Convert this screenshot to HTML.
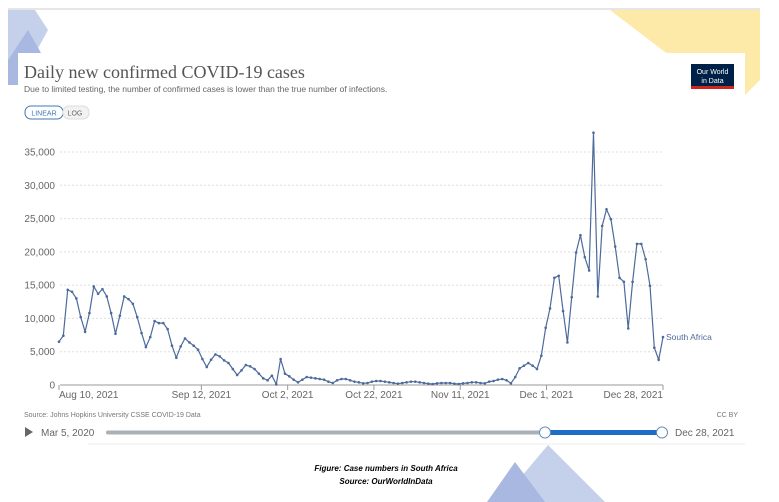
<!DOCTYPE html>
<html><head><meta charset="utf-8"><style>
body{margin:0;width:779px;height:502px;background:#fff;overflow:hidden;font-family:"Liberation Sans",sans-serif;position:relative}
svg{position:absolute;left:0;top:0}
</style></head><body>
<svg width="779" height="502">
<g>
<line x1="8" y1="9" x2="760" y2="9" stroke="#ccc" stroke-width="1"/>
<polygon points="8,10 35,10 48,30 18,85 8,85" fill="#c5d0ea"/>
<polygon points="8,60 28,30 45,60 30,85 8,85" fill="#a8b8e0"/>
<polygon points="610,10 760,10 760,80 745,95 665,52" fill="#fde9a8"/>
<polygon points="500,502 548,445 605,502" fill="#c5d0ea"/>
<polygon points="487,502 515,462 545,502" fill="#a8b8e0"/>
<rect x="18" y="53" width="727" height="350" fill="#fff"/>
<line x1="88" y1="444" x2="745" y2="444" stroke="#eee"/>
</g>
<text x="24" y="78" font-family="Liberation Serif,serif" font-size="18" fill="#555">Daily new confirmed COVID-19 cases</text>
<text x="24" y="92" font-size="8.5" fill="#666">Due to limited testing, the number of confirmed cases is lower than the true number of infections.</text>
<g><rect x="691" y="64" width="43" height="25" fill="#002147"/><rect x="691" y="86" width="43" height="3" fill="#ce261e"/>
<text x="712.5" y="74" font-size="7" fill="#fff" text-anchor="middle">Our World</text><text x="712.5" y="83" font-size="7" fill="#fff" text-anchor="middle">in Data</text></g>
<g><rect x="25" y="106" width="38" height="13" rx="6" fill="#fff" stroke="#3f78b5"/><text x="44" y="115.5" font-size="7" fill="#3f78b5" text-anchor="middle">LINEAR</text></g>
<g><rect x="63" y="106" width="26" height="13" rx="6" fill="#f2f2f2" stroke="#ddd"/><text x="75" y="115.5" font-size="7" fill="#666" text-anchor="middle">LOG</text></g>
<g id="plot"></g>
<text x="24" y="417" font-size="7" fill="#777">Source: Johns Hopkins University CSSE COVID-19 Data</text>
<text x="738" y="417" font-size="7" fill="#777" text-anchor="end">CC BY</text>
<polygon points="25,427 25,437 33,432" fill="#666"/>
<text x="41" y="436" font-size="10" fill="#666">Mar 5, 2020</text>
<rect x="106" y="430.5" width="440" height="4" rx="2" fill="#a9b0b8"/>
<rect x="545" y="430" width="117" height="5" fill="#1e6bc8"/>
<circle cx="545" cy="432.5" r="5.5" fill="#fff" stroke="#6a8fb8"/>
<circle cx="662" cy="432.5" r="5.5" fill="#fff" stroke="#6a8fb8"/>
<text x="675" y="436" font-size="10" fill="#666">Dec 28, 2021</text>
<text x="386" y="471" font-size="8" font-weight="bold" font-style="italic" text-anchor="middle" fill="#000">Figure: Case numbers in South Africa</text>
<text x="386" y="484" font-size="8" font-weight="bold" font-style="italic" text-anchor="middle" fill="#000">Source: OurWorldInData</text>
</svg>
<script>
const yTicks=[0,5000,10000,15000,20000,25000,30000,35000];
const xTickLabels=["Aug 10, 2021","Sep 12, 2021","Oct 2, 2021","Oct 22, 2021","Nov 11, 2021","Dec 1, 2021","Dec 28, 2021"];
const xTickDays=[0,33,53,73,93,113,140];
const cases=[6500,7400,14300,14000,13000,10200,8000,10800,14800,13700,14400,13300,10800,7700,10400,13300,12900,12200,10200,7800,5700,7200,9600,9300,9300,8400,5900,4100,5800,7000,6400,5900,5300,3900,2700,3800,4600,4300,3700,3300,2400,1500,2200,3000,2800,2400,1700,1000,700,1400,100,3900,1700,1300,800,400,800,1200,
1100,1000,900,800,500,300,700,900,900,700,500,400,250,300,500,600,600,500,400,300,200,300,400,500,500,400,300,200,150,250,300,300,300,200,150,250,300,400,400,300,
250,500,600,800,900,700,250,1200,2500,2900,3300,2900,2400,4400,8600,11500,16100,16400,11100,6400,13200,19900,22500,19200,17200,37900,13300,23900,26400,24900,20800,16100,15500,8500,15500,21200,21200,18900,14900,5600,3800,7200];
const seriesName="South Africa";
const NS="http://www.w3.org/2000/svg";
const g=document.getElementById('plot');
const X0=59,X1=663,Y0=385,Y1=152;
const maxDay=140;
function xDay(d){return X0+(X1-X0)*d/maxDay;}
function xIdx(i){return X0+(X1-X0)*i/(cases.length-1);}
function y(v){return Y0-(Y0-Y1)*v/35000;}
function mk(t,a){const e=document.createElementNS(NS,t);for(const k in a)e.setAttribute(k,a[k]);g.appendChild(e);return e;}
yTicks.forEach(v=>{
 const l=mk('line',{x1:60,x2:663,y1:y(v),y2:y(v),stroke:v?'#ddd':'#999','stroke-dasharray':v?'2,2':''});
 
 
 const t=mk('text',{x:55,y:y(v)+3.5,'font-size':10,fill:'#666','text-anchor':'end'});
 t.textContent=v.toLocaleString('en-US');
 
 
});
xTickDays.forEach((d,i)=>{
 const xx=xDay(d);
 const tk=mk('line',{x1:xx,x2:xx,y1:385,y2:390,stroke:'#999'});
 
 
 const anchor=i===0?'start':(i===xTickDays.length-1?'end':'middle');
 const t=mk('text',{x:xx,y:398,'font-size':10,fill:'#666','text-anchor':anchor});
 t.textContent=xTickLabels[i];
 
 
});
const pts=cases.map((v,i)=>xIdx(i).toFixed(1)+','+y(v).toFixed(1)).join(' ');
const line=mk('polyline',{points:pts,fill:'none',stroke:'#4c6a9c','stroke-width':1.2});


cases.forEach((v,i)=>{
 const c=mk('circle',{cx:xIdx(i),cy:y(v),r:1.3,fill:'#4c6a9c'});
 
 
});
const lab=mk('text',{x:xIdx(cases.length-1)+3,y:y(cases[cases.length-1])+3,'font-size':8.5,fill:'#4c6a9c'});
lab.textContent=seriesName;


</script>
</body></html>
